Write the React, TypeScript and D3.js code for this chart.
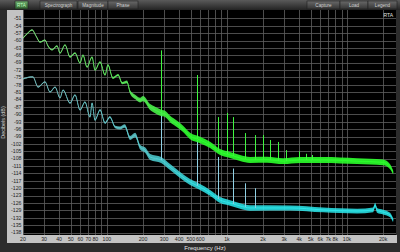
import React from "react";
import * as d3 from "d3";

// ---------- data ----------
const yTickValues = [-51, -54, -57, -60, -63, -66, -69, -72, -75, -78, -81, -84, -87, -90, -93, -96, -99, -102, -105, -108, -111, -114, -117, -120, -123, -126, -129, -132, -135, -138];
const xGridFreqs = [20, 30, 40, 50, 60, 70, 80, 90, 100, 200, 300, 400, 500, 600, 700, 800, 900, 1000, 2000, 3000, 4000, 5000, 6000, 7000, 8000, 9000, 10000, 20000];
const xLabelFreqs = [20, 30, 40, 50, 60, 70, 80, 100, 200, 300, 400, 500, 600, 1000, 2000, 3000, 4000, 5000, 6000, 7000, 8000, 10000, 20000];
const xLabelTexts = ["20", "30", "40", "50", "60", "70", "80", "100", "200", "300", "400", "500", "600", "1k", "2k", "3k", "4k", "5k", "6k", "7k", "8k", "10k", "20k"];

const greenFreq = [20, 21.6, 23.8, 25.7, 27.7, 30.5, 32.3, 34.9, 38.4, 40.7, 44.8, 49.3, 54.3, 59.7, 63.2, 68.3, 75.2, 79.6, 87.7, 96.5, 102, 112, 124, 134, 147, 156, 172, 189, 200, 229, 252, 283, 305, 336, 384, 431, 493, 597, 723, 877, 1062, 1286, 1558, 2160, 2936, 4070, 6325, 12140, 20000, 22870, 24220];
const greenDb = [-59.0, -57.3, -55.7, -58.2, -60.6, -59.8, -62.2, -63.8, -62.2, -65.1, -61.8, -66.7, -65.1, -69.1, -65.9, -70.8, -66.7, -72.0, -68.7, -74.0, -69.9, -75.2, -74.0, -77.3, -76.8, -80.9, -82.9, -84.2, -83.6, -87.0, -88.2, -89.4, -89.8, -91.9, -93.9, -95.9, -98.8, -100.4, -102.4, -105.3, -106.5, -107.7, -108.5, -108.4, -109.0, -108.5, -108.5, -109.0, -109.5, -111.3, -113.6];
const greenSpread = [0.25, 0.25, 0.25, 0.25, 0.25, 0.25, 0.25, 0.25, 0.25, 0.25, 0.25, 0.3, 0.3, 0.3, 0.3, 0.3, 0.3, 0.3, 0.3, 0.35, 0.35, 0.4, 0.4, 0.5, 0.6, 0.7, 0.9, 1.0, 1.1, 1.2, 1.3, 1.3, 1.3, 1.3, 1.3, 1.3, 1.3, 1.3, 1.3, 1.2, 1.2, 1.2, 1.2, 1.2, 1.2, 1.2, 1.2, 1.2, 1.2, 1.0, 0.8];

const cyanFreq = [20, 22, 24.2, 26.7, 30.5, 33.6, 37.0, 40.7, 43.1, 49.3, 54.3, 59.7, 65.7, 72.3, 75.2, 79.6, 87.7, 96.5, 106, 117, 129, 141, 156, 172, 189, 208, 229, 283, 336, 407, 493, 597, 723, 877, 1062, 1286, 1558, 3358, 6325, 12140, 16510, 17160, 17800, 20000, 22870, 24220];
const cyanDb = [-75.6, -75.0, -74.8, -78.9, -76.8, -80.9, -78.9, -83.3, -80.1, -85.4, -82.1, -88.2, -85.0, -91.1, -85.4, -92.3, -88.2, -93.5, -91.1, -95.1, -95.5, -94.7, -99.6, -98.4, -103.3, -104.5, -107.3, -108.5, -111.4, -114.6, -117.5, -119.5, -121.9, -124.8, -126.0, -127.2, -128.0, -128.0, -128.8, -129.3, -128.8, -126.8, -129.0, -129.7, -130.9, -133.0];
const cyanSpread = [0.25, 0.25, 0.25, 0.25, 0.25, 0.25, 0.25, 0.25, 0.25, 0.3, 0.3, 0.3, 0.3, 0.3, 0.3, 0.35, 0.35, 0.4, 0.4, 0.5, 0.6, 0.7, 0.8, 0.9, 1.0, 1.1, 1.2, 1.2, 1.2, 1.2, 1.2, 1.2, 1.2, 1.2, 1.1, 1.1, 1.1, 1.0, 1.0, 1.0, 1.0, 0.9, 1.0, 1.0, 0.9, 0.8];

const greenSpikeFreq = [283, 566, 849, 1000, 1132, 1415, 1698, 1981, 2264, 2660, 3113, 3962, 4528, 5094];
const greenSpikeTop = [-64.0, -74.0, -91.1, -89.4, -91.1, -97.6, -98.4, -98.4, -100.4, -101.2, -104.5, -105.0, -106.0, -106.5];
const cyanSpikeFreq = [283, 566, 849, 1132, 1415, 1698];
const cyanSpikeTop = [-88.0, -100.4, -107.3, -112.0, -118.0, -120.0];

const tabLabels = ["RTA", "Spectrograph", "Magnitude", "Phase"];
const rightButtons = ["Capture", "Load", "Legend"];

// ---------- layout ----------
const W = 400;
const H = 252;
const L = 23;
const R = 396;
const T = 10;
const B = 235;

export default function App() {
  const x = d3.scaleLog().domain([20, 25600]).range([L, R]);
  const y = d3.scaleLinear().domain([-139, -48]).range([B, 11]);

  const mk = (fr: number[], db: number[], sp: number[]) => {
    const pts = fr.map((f, i) => ({ f, d: db[i], s: sp[i] }));
    const line = d3
      .line<any>()
      .x((p) => x(p.f))
      .y((p) => y(p.d))
      .curve(d3.curveMonotoneX)(pts) as string;
    const area = d3
      .area<any>()
      .x((p) => x(p.f))
      .y0((p) => y(p.d - p.s))
      .y1((p) => y(p.d + p.s))
      .curve(d3.curveMonotoneX)(pts) as string;
    return { line, area };
  };
  const g = mk(greenFreq, greenDb, greenSpread);
  const c = mk(cyanFreq, cyanDb, cyanSpread);

  const valueAt = (fr: number[], db: number[], f: number) => {
    const i = d3.bisectLeft(fr, f);
    if (i <= 0) return db[0];
    if (i >= fr.length) return db[db.length - 1];
    const t = (Math.log(f) - Math.log(fr[i - 1])) / (Math.log(fr[i]) - Math.log(fr[i - 1]));
    return db[i - 1] + t * (db[i] - db[i - 1]);
  };
  const px = (v: number) => Math.round(v) + 0.5;

  const tabX = [15, 40, 78, 108];
  const tabW = [13, 37, 30, 30];
  const btnX = [307, 340, 368];
  const btnW = [33, 28, 29];
  const font = "'Liberation Sans', Arial, sans-serif";

  return (
    <svg
      width={W}
      height={H}
      style={{ position: "fixed", left: 0, top: 0, display: "block" }}
      fontFamily={font}
    >
      <defs>
        <linearGradient id="bar" x1="0" y1="0" x2="0" y2="1">
          <stop offset="0" stopColor="#5a5a5a" />
          <stop offset="1" stopColor="#232323" />
        </linearGradient>
        <linearGradient id="tab" x1="0" y1="0" x2="0" y2="1">
          <stop offset="0" stopColor="#6a6a6a" />
          <stop offset="1" stopColor="#343434" />
        </linearGradient>
        <linearGradient id="tabOn" x1="0" y1="0" x2="0" y2="1">
          <stop offset="0" stopColor="#6fae6f" />
          <stop offset="1" stopColor="#2f602f" />
        </linearGradient>
        <linearGradient id="gGrad" gradientUnits="userSpaceOnUse" x1={L} y1="0" x2={R} y2="0">
          <stop offset="0" stopColor="#78d878" />
          <stop offset="0.3" stopColor="#55e855" />
          <stop offset="0.45" stopColor="#2cff2c" />
          <stop offset="1" stopColor="#2cff2c" />
        </linearGradient>
        <linearGradient id="cGrad" gradientUnits="userSpaceOnUse" x1={L} y1="0" x2={R} y2="0">
          <stop offset="0" stopColor="#74b4b4" />
          <stop offset="0.3" stopColor="#5cc8cc" />
          <stop offset="0.5" stopColor="#2ae6ea" />
          <stop offset="1" stopColor="#2ae6ea" />
        </linearGradient>
        <clipPath id="plotClip">
          <rect x={L} y={T} width={R - L} height={B - T} />
        </clipPath>
      </defs>

      {/* background */}
      <rect x={0} y={0} width={W} height={H} fill="#2c2c2c" />
      {/* top bar */}
      <rect x={0} y={0} width={W} height={T} fill="url(#bar)" />
      {tabLabels.map((t, i) => (
        <g key={t}>
          <rect
            x={tabX[i]}
            y={1}
            width={tabW[i]}
            height={8}
            fill={i === 0 ? "url(#tabOn)" : "url(#tab)"}
            stroke="#202020"
            strokeWidth={0.6}
          />
          <text x={tabX[i] + tabW[i] / 2} y={7} fontSize={4.6} textAnchor="middle" fill={i === 0 ? "#bfffbf" : "#d0d0d0"}>
            {t}
          </text>
        </g>
      ))}
      {rightButtons.map((t, i) => (
        <g key={t}>
          <rect x={btnX[i]} y={1} width={btnW[i]} height={8} fill="url(#tab)" stroke="#202020" strokeWidth={0.6} />
          <text x={btnX[i] + btnW[i] / 2} y={7} fontSize={4.6} textAnchor="middle" fill="#d0d0d0">
            {t}
          </text>
        </g>
      ))}

      {/* axis panels */}
      <rect x={7} y={T} width={L - 7} height={B - T + 1} fill="#c3c3c3" />
      <rect x={7} y={B} width={R - 7 + 1} height={8} fill="#c3c3c3" />

      {/* plot */}
      <rect x={L} y={T} width={R - L} height={B - T} fill="#000" />
      <g stroke="#606060" strokeWidth={0.8}>
        {yTickValues.map((v) => (
          <line key={v} x1={L} x2={R} y1={px(y(v))} y2={px(y(v))} />
        ))}
        {xGridFreqs.map((f) => (
          <line key={f} x1={px(x(f))} x2={px(x(f))} y1={T} y2={B} />
        ))}
      </g>

      <g clipPath="url(#plotClip)">
        {/* cyan */}
        <path d={c.area} fill="url(#cGrad)" opacity={0.85} />
        <path d={c.line} fill="none" stroke="url(#cGrad)" strokeWidth={1} />
        {cyanSpikeFreq.map((f, i) => (
          <line
            key={"cs" + f}
            x1={px(x(f))}
            x2={px(x(f))}
            y1={y(cyanSpikeTop[i])}
            y2={y(valueAt(cyanFreq, cyanDb, f))}
            stroke="#8fd0e4"
            strokeWidth={1}
          />
        ))}
        {/* green */}
        <path d={g.area} fill="url(#gGrad)" opacity={0.9} />
        <path d={g.line} fill="none" stroke="url(#gGrad)" strokeWidth={1} />
        {greenSpikeFreq.map((f, i) => (
          <line
            key={"gs" + f}
            x1={px(x(f))}
            x2={px(x(f))}
            y1={y(greenSpikeTop[i])}
            y2={y(valueAt(greenFreq, greenDb, f))}
            stroke="#40f540"
            strokeWidth={1}
          />
        ))}
      </g>

      <text x={R - 3} y={17} fontSize={5} textAnchor="end" fill="#e0e0e0">
        RTA
      </text>

      {/* y tick labels */}
      {yTickValues.map((v) => (
        <text key={v} x={L - 1.5} y={y(v) + 1.8} fontSize={5.2} textAnchor="end" fill="#1e1e1e">
          {String(v)}
        </text>
      ))}
      {/* x tick labels */}
      {xLabelFreqs.map((f, i) => (
        <text key={f} x={x(f)} y={B + 6} fontSize={5.2} textAnchor="middle" fill="#1e1e1e">
          {xLabelTexts[i]}
        </text>
      ))}

      <text x={205} y={249.5} fontSize={6} textAnchor="middle" fill="#e6e6e6">
        Frequency (Hz)
      </text>
      <text
        transform={`translate(5.2, ${(T + B) / 2}) rotate(-90)`}
        fontSize={5.4}
        textAnchor="middle"
        fill="#d0d0d0"
      >
        Decibels (dB)
      </text>
    </svg>
  );
}
